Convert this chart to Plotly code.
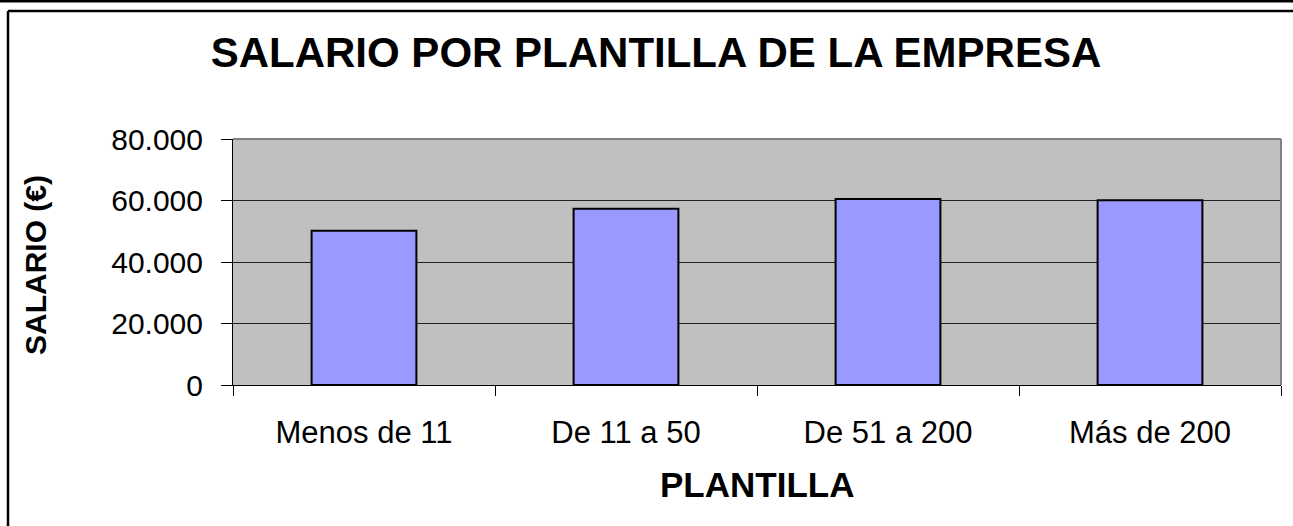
import plotly.graph_objects as go

categories = ["Menos de 11", "De 11 a 50", "De 51 a 200", "Más de 200"]
salarios = [50200, 57300, 60500, 60100]
y_ticks = [0, 20000, 40000, 60000, 80000]
y_tick_labels = ["0", "20.000", "40.000", "60.000", "80.000"]

W, H = 1293, 526
L, R, T, B = 233, 12, 139, 141
PW, PH = W - L - R, H - T - B
FONT = "Liberation Sans, Arial, sans-serif"

fig = go.Figure()
fig.add_trace(go.Bar(
    x=categories, y=salarios,
    marker=dict(color="#9999FF", line=dict(color="black", width=2)),
    width=0.4,
    hoverinfo="skip",
))

fig.update_layout(
    width=W, height=H,
    margin=dict(l=L, r=R, t=T, b=B, pad=0),
    paper_bgcolor="white",
    plot_bgcolor="#C0C0C0",
    showlegend=False,
    font=dict(family=FONT, color="black"),
    title=dict(
        text="<b>SALARIO POR PLANTILLA DE LA EMPRESA</b>",
        x=656 / W, xanchor="center", xref="container",
        y=1 - 52 / H, yanchor="middle", yref="container",
        font=dict(size=42, family=FONT, color="black"),
    ),
    xaxis=dict(
        showline=True, linecolor="black", linewidth=1,
        ticks="outside", ticklen=10, tickcolor="black", tickwidth=1,
        tickson="boundaries",
        tickfont=dict(size=31, family=FONT, color="black"),
        ticklabelstandoff=20,
        showgrid=False,
    ),
    yaxis=dict(
        range=[0, 80000],
        tickvals=y_ticks, ticktext=y_tick_labels,
        showline=True, linecolor="black", linewidth=1,
        ticks="outside", ticklen=11, tickcolor="black", tickwidth=1,
        tickfont=dict(size=30, family=FONT, color="black"),
        ticklabelstandoff=12,
        showgrid=True, gridcolor="#222222", gridwidth=1,
        zeroline=False,
    ),
    annotations=[
        dict(text="<b>SALARIO (€)</b>", textangle=-90,
             xref="paper", yref="paper",
             x=(35 - L) / PW, y=1 - (265 - T) / PH,
             xanchor="center", yanchor="middle", showarrow=False,
             font=dict(size=30, family=FONT, color="black")),
        dict(text="<b>PLANTILLA</b>",
             xref="paper", yref="paper",
             x=0.5, y=-(484 - (H - B)) / PH,
             xanchor="center", yanchor="middle", showarrow=False,
             font=dict(size=35, family=FONT, color="black")),
    ],
    shapes=[
        # gray top/right plot border
        dict(type="line", xref="paper", yref="paper", x0=0, x1=1, y0=1, y1=1,
             line=dict(color="#808080", width=2)),
        dict(type="line", xref="paper", yref="paper", x0=1, x1=1, y0=0, y1=1,
             line=dict(color="#808080", width=2)),
        # outer page line at top
        dict(type="line", xref="paper", yref="paper",
             x0=-L / PW, x1=(W - L) / PW,
             y0=1 + (T - 1) / PH, y1=1 + (T - 1) / PH,
             line=dict(color="black", width=3)),
        # chart frame
        dict(type="line", xref="paper", yref="paper",
             x0=-(L - 8) / PW, x1=(W - L) / PW,
             y0=1 + (T - 11) / PH, y1=1 + (T - 11) / PH,
             line=dict(color="black", width=2.5)),
        dict(type="line", xref="paper", yref="paper",
             x0=-(L - 8) / PW, x1=-(L - 8) / PW,
             y0=1 + (T - 11) / PH, y1=-(B + 5) / PH,
             line=dict(color="black", width=2.5)),
    ],
)

fig.write_html(
    "out.html",
    config={"displayModeBar": False, "staticPlot": True},
    post_script="document.body.style.margin='0';document.body.style.overflow='hidden';",
)
